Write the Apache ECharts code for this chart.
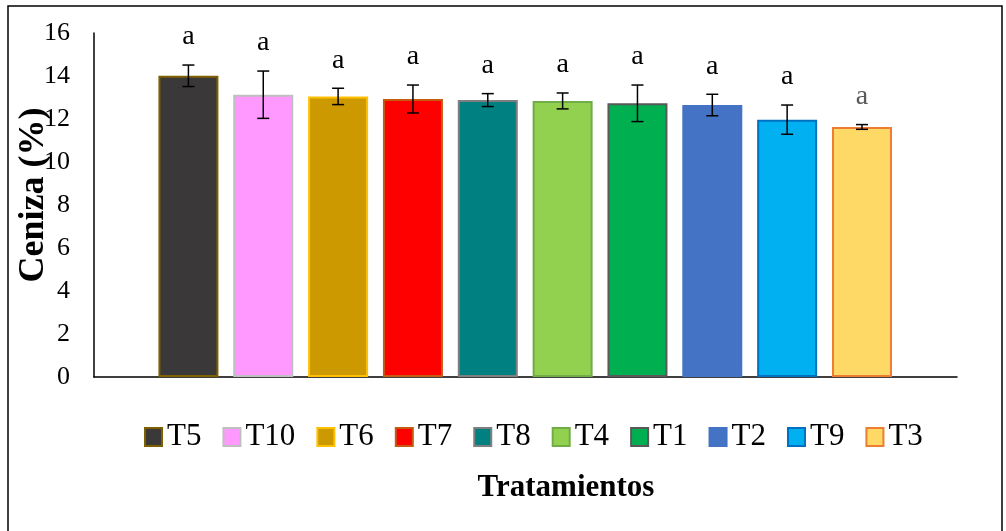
<!DOCTYPE html>
<html>
<head>
<meta charset="utf-8">
<title>Ceniza (%) por tratamiento</title>
<script src="https://cdn.jsdelivr.net/npm/echarts@6/dist/echarts.min.js"></script>
<style>
  html, body { margin: 0; padding: 0; background: #fff; }
  #chart { width: 1006px; height: 531px; }
</style>
</head>
<body>
<div id="chart"></div>
<script>
// Ash content (%) by treatment, mean ± error, with significance letters
const treatments = ['T5', 'T10', 'T6', 'T7', 'T8', 'T4', 'T1', 'T2', 'T9', 'T3'];
const ashMean = [14.01, 13.13, 13.05, 12.93, 12.88, 12.84, 12.73, 12.65, 11.97, 11.63];
const ashError = [0.50, 1.10, 0.38, 0.65, 0.30, 0.37, 0.85, 0.50, 0.68, 0.11];
const letters = ['a', 'a', 'a', 'a', 'a', 'a', 'a', 'a', 'a', 'a'];
const yMin = 0, yMax = 16, yStep = 2;

// Bar styling per treatment
const fillColors = ['#3A3838', '#FF99FF', '#CC9900', '#FF0000', '#008080',
                    '#92D050', '#00B050', '#4472C4', '#00B0F0', '#FFD966'];
const edgeColors = ['#7F6000', '#BFBFBF', '#FFC000', '#C55A11', '#7F7F7F',
                    '#70AD47', '#595959', '#4472C4', '#0070C0', '#ED7D31'];
const letterColors = ['#000', '#000', '#000', '#000', '#000',
                      '#000', '#000', '#000', '#000', '#595959'];

const FONT = "'Liberation Serif', 'Times New Roman', serif";

const chart = echarts.init(document.getElementById('chart'), null, { renderer: 'canvas' });

// One bar series per treatment so each gets its own legend entry
const barSeries = treatments.map((name, i) => ({
  name: name,
  type: 'bar',
  xAxisIndex: 1,
  yAxisIndex: 1,
  barWidth: 60,
  barGap: '-100%',
  data: treatments.map((_, j) => (j === i ? ashMean[i] : '-')),
  itemStyle: { color: fillColors[i], borderColor: edgeColors[i], borderWidth: 2 },
  emphasis: { disabled: true },
  z: 2
}));

// Error bars with caps and the letter above each bar
const errorSeries = {
  type: 'custom',
  xAxisIndex: 1,
  yAxisIndex: 1,
  z: 5,
  silent: true,
  data: treatments.map((_, i) => [i, ashMean[i], ashError[i]]),
  encode: { x: 0, y: 1 },
  renderItem: function (params, api) {
    const i = api.value(0);
    const m = api.value(1);
    const e = api.value(2);
    const top = api.coord([i, m + e]);
    const bot = api.coord([i, m - e]);
    const half = 6;
    const lineStyle = { stroke: '#000', lineWidth: 1.5 };
    return {
      type: 'group',
      children: [
        { type: 'line', shape: { x1: top[0], y1: top[1], x2: bot[0], y2: bot[1] }, style: lineStyle },
        { type: 'line', shape: { x1: top[0] - half, y1: top[1], x2: top[0] + half, y2: top[1] }, style: lineStyle },
        { type: 'line', shape: { x1: bot[0] - half, y1: bot[1], x2: bot[0] + half, y2: bot[1] }, style: lineStyle },
        {
          type: 'text',
          style: {
            text: letters[i],
            x: top[0],
            y: top[1] - 28,
            align: 'center',
            verticalAlign: 'middle',
            fill: letterColors[i],
            font: '28px ' + FONT
          }
        }
      ]
    };
  }
};

const option = {
  backgroundColor: '#fff',
  animation: false,
  textStyle: { fontFamily: FONT },
  grid: [
    // frame grid: carries the visible axes
    { left: 94, right: 49, top: 33, bottom: 154, containLabel: false, outerBoundsMode: 'none' },
    // bar grid
    { left: 151, right: 106.6, top: 33, bottom: 154, containLabel: false, outerBoundsMode: 'none' }
  ],
  xAxis: [
    {
      type: 'category', gridIndex: 0, data: [''],
      axisLine: { show: true, lineStyle: { color: '#000', width: 1.5 } },
      axisTick: { show: false }, axisLabel: { show: false }, splitLine: { show: false }
    },
    {
      type: 'category', gridIndex: 1, data: treatments, show: false
    }
  ],
  yAxis: [
    {
      type: 'value', gridIndex: 0, min: yMin, max: yMax, interval: yStep,
      axisLine: { show: true, lineStyle: { color: '#000', width: 1.5 } },
      axisTick: { show: false },
      splitLine: { show: false },
      axisLabel: { color: '#000', fontFamily: FONT, fontSize: 26, margin: 24 }
    },
    {
      type: 'value', gridIndex: 1, min: yMin, max: yMax, interval: yStep, show: false
    }
  ],
  legend: {
    data: treatments,
    left: 144,
    top: 419,
    padding: 0,
    icon: 'rect',
    itemWidth: 17,
    itemHeight: 18,
    itemGap: 21,
    selectedMode: false,
    textStyle: { color: '#000', fontFamily: FONT, fontSize: 31, lineHeight: 36 }
  },
  graphic: [
    {
      type: 'rect',
      shape: { x: 8, y: 6, width: 994, height: 540 },
      style: { fill: 'none', stroke: '#000', lineWidth: 1.5 },
      silent: true
    },
    {
      // y-axis title, rotated, overlapping the tick labels
      type: 'text',
      x: 34, y: 195,
      rotation: Math.PI / 2,
      style: {
        text: 'Ceniza (%)',
        align: 'center', verticalAlign: 'middle',
        fill: '#000', font: 'bold 36px ' + FONT
      },
      z: 10
    },
    {
      type: 'text',
      x: 566, y: 488,
      style: {
        text: 'Tratamientos',
        align: 'center', verticalAlign: 'middle',
        fill: '#000', font: 'bold 31px ' + FONT
      }
    }
  ],
  series: barSeries.concat([errorSeries])
};

chart.setOption(option);
</script>
</body>
</html>
